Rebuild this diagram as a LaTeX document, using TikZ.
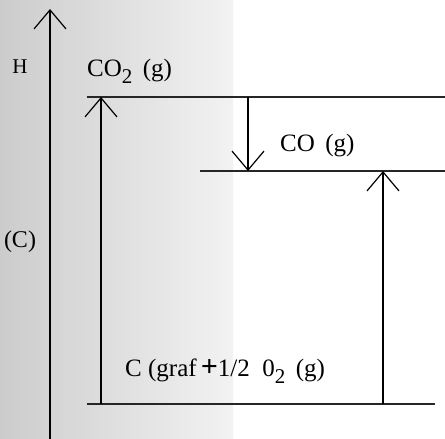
\documentclass[tikz,border=0pt]{standalone}
\usepackage{fontspec}
\setmainfont{Liberation Serif}
\usetikzlibrary{arrows.meta}
\newcommand{\lowsub}[1]{\raisebox{-7pt}{\fontsize{21}{21}\selectfont #1}}
\begin{document}
\begin{tikzpicture}[x=1pt,y=-1pt,
  lvl/.style={line width=1.4pt,black!85},
  arr/.style={line width=1.2pt,-{Straight Barb[length=19pt,width=32pt,line width=1.2pt]}},
  lbl/.style={inner sep=0pt,anchor=base west,font=\fontsize{25}{28}\selectfont}]
\useasboundingbox (0,0) rectangle (445,439);
\shade[left color=black!20,right color=black!5] (0,0) rectangle (233,439);
% axis
\coordinate (axb) at (50,439);
\coordinate (axt) at (50,9);
\draw[arr] (axb) -- (axt);
\node[font=\fontsize{21}{22}\selectfont,inner sep=0pt] (H) at (20,67) {H};
\node[font=\fontsize{24}{26}\selectfont,inner sep=0pt] (C) at (20,242) {(C)};
% levels
\coordinate (co2l) at (87,97);  \coordinate (co2r) at (445,97);
\coordinate (col)  at (200,171); \coordinate (cor) at (445,171);
\coordinate (bl)   at (87,404);  \coordinate (br)  at (435,404);
\draw[lvl] (co2l) -- (co2r);
\draw[lvl] (col) -- (cor);
\draw[lvl] (bl) -- (br);
% labels
\node[lbl] (co2) at (87,76) {CO\lowsub{2}\ \,(g)};
\node[lbl] (co) at (280,151) {CO\ \,(g)};
\node[lbl] (cgr) at (125,376) {C (graf\,{\fontsize{30}{30}\selectfont\textbf{+}}1/2\ \ 0\lowsub{2}\ \,(g)};
% arrows
\coordinate (a1b) at (101,404); \coordinate (a1t) at (101,97);
\coordinate (a2t) at (248,97);  \coordinate (a2b) at (248,171);
\coordinate (a3b) at (383,404); \coordinate (a3t) at (383,171);
\draw[arr] (a1b) -- (a1t);
\draw[arr] (a2t) -- (a2b);
\draw[arr] (a3b) -- (a3t);
\end{tikzpicture}
\end{document}
